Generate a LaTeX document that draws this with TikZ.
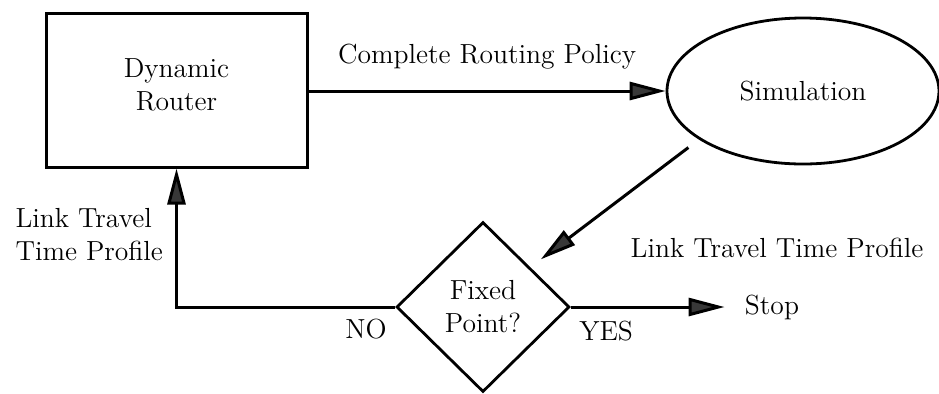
\documentclass[tikz,border=0pt]{standalone}
\usepackage{tikz}
\usetikzlibrary{positioning,arrows.meta,shapes.geometric}

\begin{document}
\begin{tikzpicture}[
  x=0.5pt, y=-0.5pt,
  every node/.style={font=\fontsize{13.8}{16.5}\selectfont},
  block/.style={draw, line width=1.5pt, minimum width=130.5pt,
    minimum height=77pt, align=center},
  sim/.style={draw, ellipse, line width=1.4pt, minimum width=136pt,
    minimum height=73pt, inner sep=0pt},
  decide/.style={draw, diamond, line width=1.4pt, minimum width=86.5pt,
    minimum height=85pt, inner sep=0pt, align=center},
  arr/.style={-{Triangle[length=18pt, width=9pt, fill=black!78]}, line width=1.5pt},
  lbl/.style={align=left, inner sep=1pt}
]
\useasboundingbox (0,0) rectangle (939,393);
\node[block, text depth=5pt] (router) at (176.5,90) {Dynamic\\Router};
\node[sim] (simu) at (803,91) {Simulation};
\node[decide] (fp) at (483,307) {Fixed\\Point?};
\node[lbl] (stop) at (772,307) {Stop};
\draw[arr] (router.east |- simu.west) -- node[above=9pt, lbl] {Complete Routing Policy} (simu.west);
\draw[arr, shorten <=6.6pt, shorten >=6.5pt] (simu.205) -- (fp.40);
\node[lbl] (ltp) at (777,248) {Link Travel Time Profile};
\draw[arr] (fp.west) -| node[pos=0.76, left=5pt, lbl] {Link Travel\\Time Profile} (router.south);
\node[lbl, below left=5pt and 3pt of fp.west] (no) {NO};
\draw[arr, shorten >=9pt] (fp.east) -- (stop.west);
\node[lbl, below right=6pt and 3pt of fp.east] (yes) {YES};
\end{tikzpicture}
\end{document}
